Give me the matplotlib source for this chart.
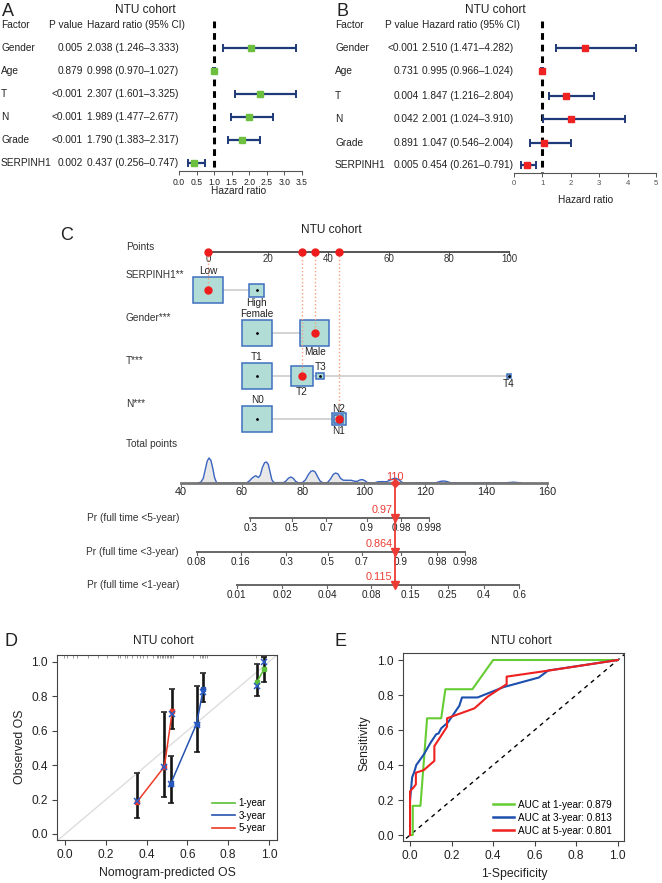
import matplotlib
matplotlib.use('Agg')
import matplotlib.pyplot as plt
import matplotlib.transforms as mtransforms
from matplotlib.patches import Rectangle
from matplotlib.lines import Line2D
import numpy as np

plt.rcParams['font.family'] = ['Liberation Sans', 'DejaVu Sans']

# ---------------- data ----------------
factors = ['Gender', 'Age', 'T', 'N', 'Grade', 'SERPINH1']

uni_p = ['0.005', '0.879', '<0.001', '<0.001', '<0.001', '0.002']
uni_hr = [2.038, 0.998, 2.307, 1.989, 1.790, 0.437]
uni_lo = [1.246, 0.970, 1.601, 1.477, 1.383, 0.256]
uni_hi = [3.333, 1.027, 3.325, 2.677, 2.317, 0.747]

multi_p = ['<0.001', '0.731', '0.004', '0.042', '0.891', '0.005']
multi_hr = [2.510, 0.995, 1.847, 2.001, 1.047, 0.454]
multi_lo = [1.471, 0.966, 1.216, 1.024, 0.546, 0.261]
multi_hi = [4.282, 1.024, 2.804, 3.910, 2.004, 0.791]

# nomogram
points_ticks = [0, 20, 40, 60, 80, 100]
nomo_vars = ['SERPINH1**', 'Gender***', 'T***', 'N***']
serp_levels = ['Low', 'High']
serp_pts = [0, 16.2]
gender_levels = ['Female', 'Male']
gender_pts = [16.3, 35.4]
t_levels = ['T1', 'T2', 'T3', 'T4']
t_pts = [16.3, 31.2, 37.3, 100]
n_levels = ['N0', 'N1', 'N2']
n_pts = [16.3, 43.4, 43.4]
chosen = ['Low', 'Male', 'T2', 'N1']

total_ticks = [40, 60, 80, 100, 120, 140, 160]
total_value = 110

dens_tp = [45.5, 46.5, 47.3, 48.0, 48.6, 49.2, 49.8, 50.4, 51.0, 51.7,
           61.5, 62.5, 63.5, 64.5, 65.4, 66.0, 66.7, 67.4, 68.0, 68.6, 69.2, 69.8, 70.5, 73.5,
           74.3, 75.2, 76.0, 76.8, 77.6, 78.5, 79.8,
           80.8, 81.8, 82.6, 83.3, 84.0, 84.8, 85.6, 86.5, 88.0,
           89.0, 89.9, 90.7, 91.5, 92.3, 93.2, 94.5, 95.8, 97.0, 97.8, 98.7, 99.5, 100.3, 101.2,
           103.5, 104.5, 106.0, 107.3, 108.5, 109.5, 110.5, 111.5, 112.7,
           123.5, 125.0, 126.0, 127.0, 128.5, 146.5, 149.0, 151.5]
dens_h = [0, 0.8, 4.7, 14, 22, 25, 22.7, 15, 5.5, 0,
          0, 2.3, 5.5, 7.3, 5.5, 7.8, 15.6, 20.3, 21, 18.8, 11, 3.1, 0.4, 0.4,
          1.6, 4.7, 6, 4.7, 1.6, 0.2, 0.4,
          3.1, 8.6, 11.7, 12.3, 11, 6.3, 2, 0.2, 0.4,
          3.9, 8.6, 10, 9, 4.7, 2.8, 2.7, 2.7, 1.7, 1.7, 3.1, 3.4, 2.3, 0.2,
          0.2, 1.2, 1.4, 1.2, 2.7, 4.3, 4.7, 3.1, 0.2,
          0.2, 1.6, 2, 1.6, 0.2, 0.2, 0.8, 0.2]

pr_names = ['Pr (full time <5-year)', 'Pr (full time <3-year)', 'Pr (full time <1-year)']
pr5_labels = ['0.3', '0.5', '0.7', '0.9', '0.98', '0.998']
pr5_at = [62.7, 76.4, 87.6, 100.9, 112.1, 121.3]
pr3_labels = ['0.08', '0.16', '0.3', '0.5', '0.7', '0.9', '0.98', '0.998']
pr3_at = [45.1, 59.6, 74.5, 88.2, 99.3, 112.1, 124.0, 133.2]
pr1_labels = ['0.01', '0.02', '0.04', '0.08', '0.15', '0.25', '0.4', '0.6']
pr1_at = [58.3, 73.2, 88.0, 102.3, 115.3, 127.5, 139.3, 150.9]
pr_values = ['0.97', '0.864', '0.115']

# calibration
cal1_pred = [0.943, 0.977]
cal1_obs = [0.886, 0.959]
cal1_lo = [0.802, 0.886]
cal1_hi = [0.987, 1.030]
cal1_cor = [0.860, 1.000]
cal3_pred = [0.518, 0.645, 0.678]
cal3_obs = [0.291, 0.640, 0.841]
cal3_lo = [0.182, 0.479, 0.764]
cal3_hi = [0.455, 0.860, 0.934]
cal3_cor = [0.289, 0.636, 0.826]
cal5_pred = [0.351, 0.487, 0.526]
cal5_obs = [0.184, 0.391, 0.715]
cal5_lo = [0.090, 0.217, 0.609]
cal5_hi = [0.353, 0.711, 0.843]
cal5_cor = [0.190, 0.391, 0.695]
rug = [-0.008, 0.008, 0.04, 0.057, 0.114, 0.163, 0.204, 0.257, 0.27, 0.294, 0.306,
       0.327, 0.351, 0.368, 0.384, 0.40, 0.433, 0.449, 0.458, 0.466, 0.474, 0.482,
       0.49, 0.498, 0.506, 0.515, 0.522, 0.531, 0.629, 0.662, 0.67, 0.678, 0.686,
       0.694, 0.935, 0.963, 0.967, 0.971, 0.975, 0.979, 0.983, 0.988]

# ROC
roc1_x = [0, 0.013, 0.013, 0.05, 0.082, 0.15, 0.17, 0.30, 0.40, 1.0]
roc1_y = [0, 0, 0.167, 0.167, 0.667, 0.667, 0.833, 0.833, 1.0, 1.0]
roc3_x = [0, 0.01, 0.02, 0.03, 0.066, 0.10, 0.126, 0.137, 0.15, 0.182, 0.237, 0.25,
          0.325, 0.45, 0.62, 0.665, 1.0]
roc3_y = [0.2, 0.33, 0.36, 0.40, 0.46, 0.53, 0.576, 0.58, 0.61, 0.643, 0.738, 0.786,
          0.786, 0.845, 0.90, 0.94, 1.0]
roc5_x = [0, 0, 0.02, 0.028, 0.028, 0.066, 0.117, 0.117, 0.178, 0.178, 0.31, 0.373,
          0.465, 0.465, 0.67, 1.0]
roc5_y = [0, 0.25, 0.276, 0.29, 0.356, 0.371, 0.424, 0.508, 0.619, 0.667, 0.724, 0.79,
          0.862, 0.905, 0.94, 1.0]
auc_labels = ['AUC at 1-year: 0.879', 'AUC at 3-year: 0.813', 'AUC at 5-year: 0.801']

# ---------------- figure ----------------
W, H = 662, 883
fig = plt.figure(figsize=(6.62, 8.83), dpi=100)
PX = mtransforms.Affine2D().scale(1 / W, -1 / H).translate(0, 1) + fig.transFigure
TXT = '#222222'


def box(l, t, r, b):
    return [l / W, 1 - b / H, (r - l) / W, (b - t) / H]


def ptext(x, y, s, **kw):
    kw.setdefault('color', TXT)
    kw.setdefault('va', 'center')
    fig.text(x, y, s, transform=PX, **kw)


# ---- panels A and B: forest plots
def forest(left, right, px0, ppu, top, axis_y, rows, hr, lo, hi, p, mcol,
           ticks, tick_fs, tick_col, col_f, col_p, col_hr, xlab_x, xlab_y):
    ax = fig.add_axes(box(left, top, right, axis_y))
    ax.set_xlim((left - px0) / ppu, (right - px0) / ppu)
    ax.set_ylim(axis_y, top)
    hr = np.array(hr)
    ax.errorbar(hr, rows, xerr=[hr - np.array(lo), np.array(hi) - hr], fmt='none',
                ecolor='#1f3a78', elinewidth=1.6, capsize=2.6, capthick=1.4, zorder=2)
    ax.plot(hr, rows, 's', color=mcol, ms=4, zorder=3)
    ln, = ax.plot([1, 1], [top + 6, axis_y], color='black', lw=2.2, zorder=1)
    ln.set_dashes((2.2, 1.6))
    for s in ['top', 'left', 'right']:
        ax.spines[s].set_visible(False)
    ax.spines['bottom'].set_bounds(ticks[0], ticks[-1])
    ax.spines['bottom'].set_color('#555555')
    ax.set_yticks([])
    ax.set_xticks(ticks)
    ax.tick_params(axis='x', length=3, width=0.7, color='#555555', labelsize=tick_fs,
                   labelcolor=tick_col, pad=2)
    ax.patch.set_alpha(0)
    fs = 7.3
    ptext(col_f, 25, 'Factor', fontsize=fs)
    ptext(col_p, 25, 'P value', fontsize=fs, ha='right')
    ptext(col_hr, 25, 'Hazard ratio (95% CI)', fontsize=fs)
    for i, f in enumerate(factors):
        ptext(col_f, rows[i], f, fontsize=fs)
        ptext(col_p, rows[i], p[i], fontsize=fs, ha='right')
        ptext(col_hr, rows[i], '%.3f (%.3f\u2013%.3f)' % (hr[i], lo[i], hi[i]), fontsize=fs)
    ptext(xlab_x, xlab_y, 'Hazard ratio', fontsize=7.3, ha='center')
    return ax


forest(0, 331, 179, 35.1, 15, 170.7, [48, 71, 94, 117, 140, 163],
       uni_hr, uni_lo, uni_hi, uni_p, '#6cbf3f',
       [0, 0.5, 1, 1.5, 2, 2.5, 3, 3.5], 6.2, TXT, 1, 83, 87, 239, 191)
forest(331, 662, 514, 28.4, 15, 173, [48, 71, 96, 119, 143, 165],
       multi_hr, multi_lo, multi_hi, multi_p, '#ee2222',
       [0, 1, 2, 3, 4, 5], 5.6, '#555555', 335, 419, 422, 586, 200)
ptext(145, 10, 'NTU cohort', fontsize=8.6, ha='center')
ptext(495, 10, 'NTU cohort', fontsize=8.6, ha='center')
ptext(2, 11, 'A', fontsize=13)
ptext(337, 11, 'B', fontsize=13)

# ---- panel C: nomogram
top_c, bot_c = 215, 620
axC = fig.add_axes(box(0, top_c, W, bot_c))
axC.set_xlim(-208 / 3.01, (W - 208) / 3.01)
axC.set_ylim(bot_c, top_c)
axC.set_axis_off()
axT = fig.add_axes(box(0, top_c, W, bot_c))
axT.set_xlim(40 - 181 / 3.05, 40 + (W - 181) / 3.05)
axT.set_ylim(bot_c, top_c)
axT.set_axis_off()

ptext(331, 230, 'NTU cohort', fontsize=8.6, ha='center')
ptext(60, 236, 'C', fontsize=13)

lab_x = 126
pts_y = 252
ptext(lab_x, 247, 'Points', fontsize=7.3, color='#333333')
axC.plot([points_ticks[0], points_ticks[-1]], [pts_y, pts_y], color='#555555', lw=1.4)
for t in points_ticks:
    axC.plot([t, t], [pts_y, pts_y + 3], color='#555555', lw=0.8)
    axC.text(t, pts_y + 7, str(t), ha='center', va='center', fontsize=7, color='#333333')

rows_c = [
    (serp_levels, serp_pts, 290, [(29.6, 26), (15, 13)], ['up', 'down']),
    (gender_levels, gender_pts, 333, [(29.7, 25.3), (29.4, 25.3)], ['up', 'down']),
    (t_levels, t_pts, 376, [(29.7, 25.7), (22.3, 20.3), (8, 6), (4, 4)],
     ['up', 'down', 'up', 'down']),
    (n_levels, n_pts, 419, [(29.6, 26.3), (14, 12), (9, 8)], ['up', 'down', 'up']),
]
for vi, (levels, pts, ry, sizes, sides) in enumerate(rows_c):
    ptext(lab_x, ry - 15, nomo_vars[vi], fontsize=7.3, color='#333333')
    axC.plot([min(pts), max(pts)], [ry, ry], color='#cccccc', lw=1.2, zorder=1)
    for lv, pt, (w, h), side in zip(levels, pts, sizes, sides):
        wu = w / 3.01
        axC.add_patch(Rectangle((pt - wu / 2, ry - h / 2), wu, h, facecolor='#b2ddd6',
                                edgecolor='#3f6fc0', lw=1.1, zorder=2))
        ly = ry - h / 2 - 6 if side == 'up' else ry + h / 2 + 6
        axC.text(pt, ly, lv, ha='center', va='center', fontsize=7.2, color='#222222', zorder=4)
        if lv in chosen:
            axC.plot(pt, ry, 'o', color='#ee1c1c', ms=5, zorder=5)
            axC.plot([pt, pt], [pts_y, ry], ls=':', color='#f5a07c', lw=1.0, zorder=3)
            axC.plot(pt, pts_y, 'o', color='#ee1c1c', ms=5, zorder=5)
        else:
            axC.plot(pt, ry, '.', color='black', ms=2, zorder=3)

# total points with density
tot_y = 483
ptext(lab_x, 444, 'Total points', fontsize=7.3, color='#333333')
dtp = np.array(dens_tp)
dh = np.array(dens_h)
axT.fill_between(dtp, tot_y - dh, tot_y, color='#e8e8e8', lw=0, zorder=1)
axT.plot(dtp, tot_y - dh, color='#3a64c0', lw=1.0, zorder=2)
axT.plot([total_ticks[0], total_ticks[-1]], [tot_y, tot_y], color='#777777', lw=2, zorder=3)
for t in total_ticks:
    axT.plot([t, t], [tot_y, tot_y + 3], color='#777777', lw=0.8)
    axT.text(t, tot_y + 9, str(t), ha='center', va='center', fontsize=7.8, color='#222222')

pr_rows = [(pr5_labels, pr5_at, 518), (pr3_labels, pr3_at, 552), (pr1_labels, pr1_at, 585)]
for (labs, at, y), name in zip(pr_rows, pr_names):
    ptext(179, y, name, fontsize=7.3, color='#333333', ha='right')
    axT.plot([at[0], at[-1]], [y, y], color='#666666', lw=1.4, zorder=2)
    for a, l in zip(at, labs):
        axT.plot([a, a], [y, y + 3], color='#666666', lw=0.8)
        axT.text(a, y + 10, l, ha='center', va='center', fontsize=7.2, color='#222222')

red = '#ec3b35'
axT.plot([total_value, total_value], [tot_y, pr_rows[-1][2]], color=red, lw=1.3, zorder=4)
axT.plot(total_value, tot_y, 'D', color=red, ms=4.5, zorder=5)
axT.text(total_value, tot_y - 6, str(total_value), ha='center', va='center',
         fontsize=7.8, color=red, zorder=5)
for (labs, at, y), v in zip(pr_rows, pr_values):
    axT.plot(total_value, y, 'v', color=red, ms=6, zorder=5)
    axT.text(total_value - 0.7, y - 8, v, ha='right', va='center', fontsize=7.8,
             color=red, zorder=5)

# ---- panel D: calibration
axD = fig.add_axes(box(57, 655, 277, 840))
axD.set_xlim(-0.04, 1.04)
axD.set_ylim(-0.035, 1.04)
axD.plot([-0.05, 1.05], [-0.05, 1.05], color='#dddddd', lw=1.0, zorder=1)
axD.vlines(rug, 1.022, 1.04, color='#888888', lw=0.6, zorder=1)
series = [(cal1_pred, cal1_obs, cal1_lo, cal1_hi, cal1_cor, '#5cc03a'),
          (cal3_pred, cal3_obs, cal3_lo, cal3_hi, cal3_cor, '#2653b0'),
          (cal5_pred, cal5_obs, cal5_lo, cal5_hi, cal5_cor, '#ee3a28')]
for pr, ob, lo, hi, cor, c in series:
    ob = np.array(ob)
    axD.errorbar(pr, ob, yerr=[ob - np.array(lo), np.array(hi) - ob], fmt='none',
                 ecolor='#151515', elinewidth=1.9, capsize=2.3, capthick=1.1, zorder=2)
    axD.plot(pr, ob, '-s', color=c, lw=1.1, ms=3.2, zorder=3)
    axD.plot(pr, cor, 'x', color='#2a5cc8', ms=4, mew=1.1, zorder=4)
axD.set_xticks([0, 0.2, 0.4, 0.6, 0.8, 1.0])
axD.set_yticks([0, 0.2, 0.4, 0.6, 0.8, 1.0])
axD.set_xticklabels(['0.0', '0.2', '0.4', '0.6', '0.8', '1.0'])
axD.set_yticklabels(['0.0', '0.2', '0.4', '0.6', '0.8', '1.0'])
axD.legend(handles=[Line2D([], [], color=s[5], lw=1.2) for s in series],
           labels=['1-year', '3-year', '5-year'], loc='lower right', frameon=False,
           fontsize=7, handlelength=2.3, handletextpad=0.4, labelspacing=0.25,
           bbox_to_anchor=(0.99, -0.01))
ptext(163, 641, 'NTU cohort', fontsize=8.6, ha='center')
ptext(4, 641, 'D', fontsize=13)
ptext(20, 747, 'Observed OS', fontsize=8.8, ha='center', rotation=90)
ptext(167, 873, 'Nomogram-predicted OS', fontsize=8.8, ha='center')

# ---- panel E: ROC
axE = fig.add_axes(box(403, 653, 624, 841))
axE.set_xlim(-0.034, 1.03)
axE.set_ylim(-0.034, 1.04)
axE.plot([-0.05, 1.05], [-0.05, 1.05], color='black', lw=1.0, ls=(0, (3, 3)), zorder=1)
roc_cols = ['#66cc33', '#1c4fae', '#ee2020']
for xs, ys, c in zip([roc1_x, roc3_x, roc5_x], [roc1_y, roc3_y, roc5_y], roc_cols):
    axE.plot(xs, ys, color=c, lw=1.5, zorder=2)
axE.set_xticks([0, 0.2, 0.4, 0.6, 0.8, 1.0])
axE.set_yticks([0, 0.2, 0.4, 0.6, 0.8, 1.0])
axE.set_xticklabels(['0.0', '0.2', '0.4', '0.6', '0.8', '1.0'])
axE.set_yticklabels(['0.0', '0.2', '0.4', '0.6', '0.8', '1.0'])
axE.legend(handles=[Line2D([], [], color=c, lw=1.8) for c in roc_cols],
           labels=auc_labels, loc='lower right', frameon=False, fontsize=7.2,
           handlelength=2.1, handletextpad=0.4, labelspacing=0.3,
           bbox_to_anchor=(0.985, -0.02))
ptext(521, 641, 'NTU cohort', fontsize=8.6, ha='center')
ptext(334, 641, 'E', fontsize=13)
ptext(364, 743, 'Sensitivity', fontsize=8.8, ha='center', rotation=90)
ptext(514, 874, '1-Specificity', fontsize=8.8, ha='center')

for ax in (axD, axE):
    for s in ax.spines.values():
        s.set_color('#444444')
        s.set_linewidth(0.8)
    ax.tick_params(length=3.5, width=0.8, color='#444444', labelsize=8.6,
                   labelcolor='#222222', pad=3)

fig.savefig('out.png', dpi=100)
